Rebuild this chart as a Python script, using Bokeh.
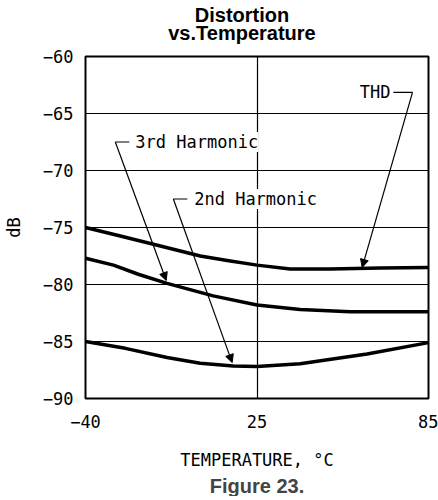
import numpy as np
from bokeh.plotting import figure
from bokeh.layouts import column
from bokeh.models import (Range1d, FixedTicker, Label, Arrow, NormalHead, Title, Div)
from bokeh.embed import file_html
from bokeh.resources import INLINE

# ---- data ----
temp_ticks = [-40, 25, 85]
db_ticks = [-90, -85, -80, -75, -70, -65, -60]

thd_temp = [-40, -26.8, -15.4, 3.5, 13.7, 25, 36.6, 50.6, 68.2, 85]
thd_db = [-75.0, -75.75, -76.4, -77.5, -77.9, -78.3, -78.65, -78.65, -78.55, -78.5]

h3_temp = [-40, -29.4, -20, -9.1, 8.4, 25, 40.1, 57.6, 85]
h3_db = [-77.7, -78.3, -79.1, -79.9, -81.0, -81.8, -82.2, -82.4, -82.4]

h2_temp = [-40, -24.9, -9.1, 3.5, 16, 25, 40.1, 63.5, 85]
h2_db = [-85.0, -85.6, -86.4, -86.9, -87.15, -87.2, -86.95, -86.1, -85.1]

# annotations
ann_names = ["3rd Harmonic", "2nd Harmonic", "THD"]
ann_text_t = [-21.1, 1.2, 71.7]
ann_text_db = [-67.5, -72.5, -63.15]
ann_tick_start_t = [-23.4, -1.4, 72.7]
ann_elbow_t = [-28.7, -6.7, 79.4]
ann_tip_t = [-9.4, 15.6, 61.8]
ann_tip_db = [-79.65, -86.85, -78.5]

title_lines = ["Distortion", "vs.Temperature"]
caption = "Figure 23."


# The reference axis places 25 °C at the middle of the grid
def tpos(t):
    return np.interp(t, temp_ticks, [0, 1, 2])


MONO = "DejaVu Sans Mono"
BOLD = "Liberation Sans"

p = figure(frame_width=343, frame_height=342, output_backend="svg", toolbar_location=None,
           x_range=Range1d(0, 2), y_range=Range1d(-90, -60),
           min_border_left=77, min_border_right=10, min_border_bottom=0,
           min_border_top=10)
p.background_fill_color = "white"
p.border_fill_color = "white"
p.outline_line_color = "black"
p.outline_line_width = 2

# axes
p.xaxis.ticker = FixedTicker(ticks=[0, 1, 2])
p.xaxis.major_label_overrides = {0: "\u221240", 1: "25", 2: "85"}
p.yaxis.ticker = FixedTicker(ticks=db_ticks)
p.yaxis.major_label_overrides = {v: str(v).replace("-", "\u2212") for v in db_ticks}
for ax in (p.xaxis[0], p.yaxis[0]):
    ax.axis_line_color = None
    ax.major_tick_line_color = None
    ax.minor_tick_line_color = None
    ax.major_tick_out = 0
    ax.major_tick_in = 0
    ax.minor_tick_out = 0
    ax.major_label_text_font = MONO
    ax.major_label_text_font_size = "17px"
    ax.major_label_text_color = "black"
    ax.axis_label_text_font = MONO
    ax.axis_label_text_font_size = "17px"
    ax.axis_label_text_font_style = "normal"
    ax.axis_label_text_color = "black"
p.xaxis.axis_label = "TEMPERATURE, \u00b0C"
p.yaxis.axis_label = "dB"
p.xaxis.major_label_standoff = 16
p.yaxis.major_label_standoff = 12
p.xaxis.axis_label_standoff = 19
p.yaxis.axis_label_standoff = 16

p.xgrid.ticker = FixedTicker(ticks=[1])
p.ygrid.ticker = FixedTicker(ticks=db_ticks[1:-1])
for g in (p.xgrid[0], p.ygrid[0]):
    g.grid_line_color = "black"
    g.grid_line_width = 1.2
    g.grid_line_alpha = 1.0

# curves
for tt, dd in ((thd_temp, thd_db), (h3_temp, h3_db), (h2_temp, h2_db)):
    p.line(tpos(tt), dd, line_color="black", line_width=3.5,
           line_join="round", line_cap="round")

# leader lines and labels
for i, name in enumerate(ann_names):
    p.segment(x0=[tpos(ann_tick_start_t[i])], y0=[ann_text_db[i]],
              x1=[tpos(ann_elbow_t[i])], y1=[ann_text_db[i]],
              line_color="black", line_width=1.2)
    p.add_layout(Arrow(end=NormalHead(size=8, fill_color="black", line_color="black",
                                      line_width=1),
                       x_start=float(tpos(ann_elbow_t[i])), y_start=ann_text_db[i],
                       x_end=float(tpos(ann_tip_t[i])), y_end=ann_tip_db[i],
                       line_color="black", line_width=1.2))
    p.add_layout(Label(x=float(tpos(ann_text_t[i])), y=ann_text_db[i], text=name,
                       text_font=MONO, text_font_size="17px", text_color="black",
                       text_baseline="middle",
                       text_align="right" if name == "THD" else "left",
                       background_fill_color="white", background_fill_alpha=1.0))

# caption below the axis title
p.add_layout(Title(text=caption, text_font=BOLD, text_font_style="bold",
                   text_font_size="20px", align="center", offset=-7,
                   standoff=0), "below")

# two-line centred chart title
title_style = ("display:block;width:376px;height:46px;box-sizing:border-box;"
               "padding:6px 0 0 0;margin:0;"
               "font-family:'Liberation Sans',Arial,sans-serif;font-weight:bold;"
               "font-size:20px;line-height:18px;text-align:center;color:black;")
title_div = Div(text='<div style="%s">%s</div>' % (title_style, "<br>".join(title_lines)),
                width=376, height=46, margin=(0, 0, 0, 54),
                styles={"text-align": "center", "width": "376px", "height": "46px"})

layout = column(title_div, p, spacing=0)

open("out.html", "w").write(file_html(layout, INLINE))
